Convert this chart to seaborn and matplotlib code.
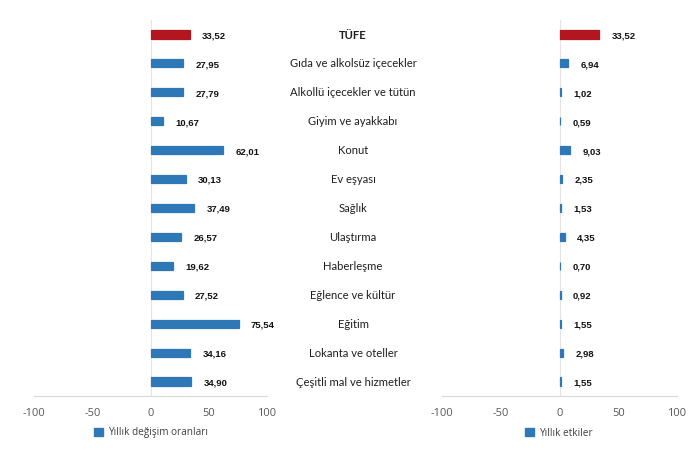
import seaborn as sns
import matplotlib.pyplot as plt
import matplotlib.transforms as mtransforms
from matplotlib.patches import Patch

categories = ["TÜFE", "Gıda ve alkolsüz içecekler", "Alkollü içecekler ve tütün",
              "Giyim ve ayakkabı", "Konut", "Ev eşyası", "Sağlık", "Ulaştırma",
              "Haberleşme", "Eğlence ve kültür", "Eğitim", "Lokanta ve oteller",
              "Çeşitli mal ve hizmetler"]
annual_change = [33.52, 27.95, 27.79, 10.67, 62.01, 30.13, 37.49, 26.57,
                 19.62, 27.52, 75.54, 34.16, 34.90]
annual_effect = [33.52, 6.94, 1.02, 0.59, 9.03, 2.35, 1.53, 4.35,
                 0.70, 0.92, 1.55, 2.98, 1.55]
x_ticks = [-100, -50, 0, 50, 100]

blue = "#2E78B7"
red = "#B2161E"
colors = [red] + [blue] * (len(categories) - 1)

sns.set_style("white")
plt.rcParams['font.family'] = ['Open Sans', 'DejaVu Sans']

fig = plt.figure(figsize=(7, 4.58), dpi=100)
ax1 = fig.add_axes([34 / 700, 1 - 396 / 458, 233 / 700, 376 / 458])
ax2 = fig.add_axes([442 / 700, 1 - 396 / 458, 235 / 700, 376 / 458])


def draw(ax, values, legend_label, legend_x):
    sns.barplot(x=values, y=categories, hue=categories, palette=colors,
                orient="h", width=0.28, legend=False, ax=ax, saturation=1,
                linewidth=0.9)
    for p in ax.patches:
        p.set_edgecolor(p.get_facecolor())
    ax.set_xlim(-100, 100)
    ax.set_xticks(x_ticks)
    ax.set_xticklabels([str(t) for t in x_ticks], color="#595959", fontsize=8)
    ax.set_yticks([])
    ax.set_ylabel("")
    ax.tick_params(axis="x", length=0, pad=9)
    for s in ["top", "right", "left"]:
        ax.spines[s].set_visible(False)
    ax.spines["bottom"].set_color("#D9D9D9")
    ax.spines["bottom"].set_linewidth(0.8)
    ax.axvline(0, color="#E4E4E4", lw=0.8, zorder=0)
    for i, v in enumerate(values):
        ax.annotate(f"{v:.2f}".replace(".", ","), (v, i), xytext=(9, -1),
                    textcoords="offset points", ha="left", va="center",
                    fontsize=6.8, fontweight="bold", fontstretch="normal",
                    family=["Liberation Sans"], color="#111111")
    fig.legend(handles=[Patch(color=blue)], labels=[legend_label],
               loc="center left", bbox_to_anchor=(legend_x, 1 - 433 / 458),
               frameon=False, fontsize=7.2, handlelength=0.9, handleheight=0.9,
               handletextpad=0.5, labelcolor="#404040")


draw(ax1, annual_change, "Yıllık değişim oranları", 85 / 700)
draw(ax2, annual_effect, "Yıllık etkiler", 516 / 700)

trans = mtransforms.blended_transform_factory(fig.transFigure, ax1.transData)
for i, c in enumerate(categories):
    ax1.text(353 / 700, i + 0.02, c, transform=trans, ha="center", va="center",
             fontsize=8.1, color="#1f1f1f", family=["Lato", "DejaVu Sans"],
             fontweight="bold" if i == 0 else "normal", clip_on=False)

fig.savefig("out.png", dpi=100)
